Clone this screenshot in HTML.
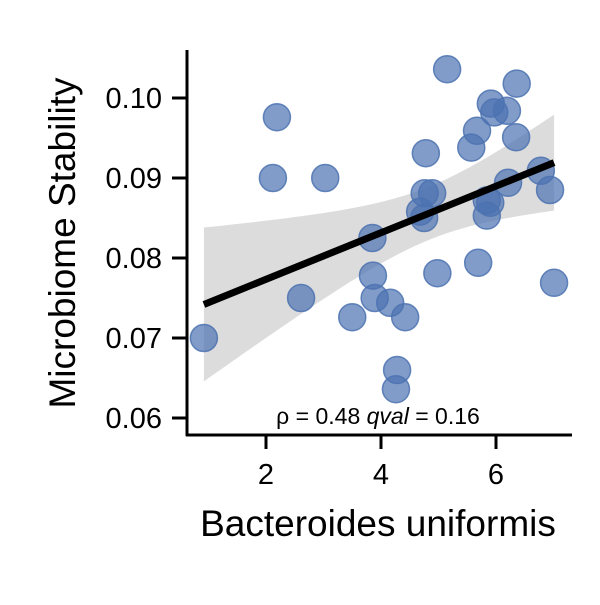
<!DOCTYPE html>
<html><head><meta charset="utf-8"><style>
body{margin:0;background:#fff}
svg text{font-family:"Liberation Sans",sans-serif;fill:#000}
</style></head><body>
<svg id="chart" width="600" height="600" viewBox="0 0 600 600">
<g id="band"></g><g id="pts"></g><g id="fit"></g><g id="axes"></g>
</svg>
<script>
const xValues=[0.92,2.19,2.12,3.03,2.61,3.5,3.85,3.86,3.89,4.16,4.42,4.28,4.26,4.78,4.76,4.89,4.68,4.75,4.98,5.15,5.57,5.67,5.91,5.97,6.19,6.36,6.35,5.84,5.9,5.84,5.69,6.21,6.78,6.94,7.01];
const yValues=[0.07,0.0976,0.09,0.09,0.075,0.0726,0.0825,0.0778,0.075,0.0744,0.0726,0.066,0.0636,0.0931,0.0881,0.0881,0.0858,0.085,0.0781,0.1036,0.0938,0.0959,0.0993,0.0982,0.0984,0.1018,0.0951,0.0872,0.0869,0.0853,0.0794,0.0894,0.0909,0.0885,0.0769];
const xTicks=[2,4,6];
const yTicks=[0.06,0.07,0.08,0.09,0.10];
const yTickLabels=["0.06","0.07","0.08","0.09","0.10"];
const annotation={rho:"0.48",qval:"0.16"};
const NS="http://www.w3.org/2000/svg";
const sx=v=>151+v*57.5, sy=v=>98+(0.1-v)*8000;
function mk(tag,attrs,parent){const e=document.createElementNS(NS,tag);for(const k in attrs)e.setAttribute(k,attrs[k]);parent.appendChild(e);return e;}
const n=xValues.length;
const mx=xValues.reduce((a,b)=>a+b)/n, my=yValues.reduce((a,b)=>a+b)/n;
let sxx=0,sxy=0;for(let i=0;i<n;i++){sxx+=(xValues[i]-mx)**2;sxy+=(xValues[i]-mx)*(yValues[i]-my);}
const b=sxy/sxx,a=my-b*mx;
let sse=0;for(let i=0;i<n;i++)sse+=(yValues[i]-a-b*xValues[i])**2;
const s=Math.sqrt(sse/(n-2));
const x0=Math.min(...xValues),x1=Math.max(...xValues);
let up=[],lo=[];
for(let k=0;k<=50;k++){const x=x0+(x1-x0)*k/50;const y=a+b*x;const se=2.03*s*Math.sqrt(1/n+(x-mx)**2/sxx);up.push(sx(x)+","+sy(y+se));lo.unshift(sx(x)+","+sy(y-se));}
const band=mk("polygon",{points:up.concat(lo).join(" "),fill:"#dcdcdc"},document.getElementById("band"));


const pg=document.getElementById("pts");
for(let i=0;i<n;i++){const c=mk("circle",{cx:sx(xValues[i]),cy:sy(yValues[i]),r:13.5,fill:"rgba(76,114,176,0.7)",stroke:"rgba(76,114,176,0.85)","stroke-width":1.5},pg);

}
const fl=mk("line",{x1:sx(x0),y1:sy(a+b*x0),x2:sx(x1),y2:sy(a+b*x1),stroke:"#000","stroke-width":7},document.getElementById("fit"));


const ax=document.getElementById("axes");
const xa=mk("line",{x1:186,y1:435,x2:572,y2:435,stroke:"#000","stroke-width":3},ax);


const ya=mk("line",{x1:187,y1:50,x2:187,y2:436,stroke:"#000","stroke-width":3},ax);


xTicks.forEach(t=>{mk("line",{x1:sx(t),y1:435,x2:sx(t),y2:449,stroke:"#000","stroke-width":3},ax);
const tx=mk("text",{x:sx(t),y:484,"text-anchor":"middle","font-size":29},ax);tx.textContent=t;

});
yTicks.forEach((t,i)=>{mk("line",{x1:172,y1:sy(t),x2:187,y2:sy(t),stroke:"#000","stroke-width":3},ax);
const tx=mk("text",{x:162,y:sy(t)+10,"text-anchor":"end","font-size":29},ax);tx.textContent=yTickLabels[i];

});
const xt=mk("text",{x:378,y:536,"text-anchor":"middle","font-size":37},ax);xt.textContent="Bacteroides uniformis";


const yt=mk("text",{x:0,y:0,"text-anchor":"middle","font-size":37,transform:"translate(75,243) rotate(-90)"},ax);yt.textContent="Microbiome Stability";


const an=mk("text",{x:378,y:424,"text-anchor":"middle","font-size":23},ax);
an.innerHTML="ρ = "+annotation.rho+" <tspan font-style='italic'>qval</tspan> = "+annotation.qval;


</script>
</body></html>
